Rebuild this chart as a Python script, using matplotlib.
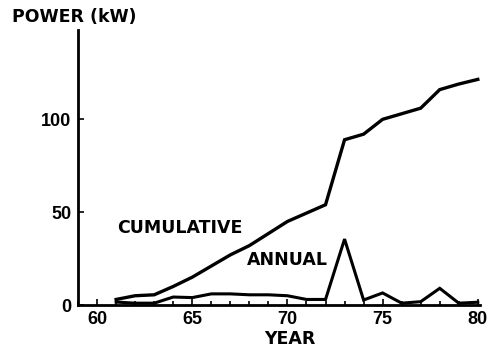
import matplotlib
matplotlib.use("Agg")
import matplotlib.pyplot as plt
from matplotlib.ticker import MultipleLocator

years = [61, 62, 63, 64, 65, 66, 67, 68, 69, 70, 71, 72, 73, 74, 75, 76, 77, 78, 79, 80]
cumulative = [3, 5, 5.5, 10, 15, 21, 27, 32, 38.5, 45, 49.5, 54, 89, 92, 100, 103, 106, 116, 119, 121.5]
annual = [1.6, 1, 1, 4.3, 4, 6, 6, 5.5, 5.5, 5, 3, 3, 35.5, 2.7, 6.5, 1, 1.8, 9, 1, 1.5]
xticks = [60, 65, 70, 75, 80]
yticks = [0, 50, 100]

plt.rcParams['font.family'] = ['DejaVu Sans']
plt.rcParams['font.weight'] = 'bold'

fig = plt.figure(figsize=(4.91, 3.51), dpi=100)
ax = fig.add_axes([0.159, 0.131, 0.818, 0.783])
ax.plot(years, cumulative, color='black', lw=2.4, solid_joinstyle='miter')
ax.plot(years, annual, color='black', lw=2.2, solid_joinstyle='miter')

ax.set_xlim(59, 80.1)
ax.set_ylim(0, 148)
ax.set_xticks(xticks)
ax.set_yticks(yticks)
ax.xaxis.set_minor_locator(MultipleLocator(1))
ax.tick_params(axis='both', which='both', direction='in', width=1.2, labelsize=13)
ax.tick_params(axis='both', which='major', length=4)
ax.tick_params(axis='x', which='minor', length=3)
ax.tick_params(axis='x', pad=4)
ax.tick_params(axis='y', pad=5)
for lab in ax.get_xticklabels() + ax.get_yticklabels():
    lab.set_fontweight('bold')
    lab.set_fontfamily(['Liberation Sans'])
for s in ['top', 'right']:
    ax.spines[s].set_visible(False)
for s in ['left', 'bottom']:
    ax.spines[s].set_linewidth(2)

fig.text(290/491, 1-339/351, 'YEAR', ha='center', va='center', fontsize=12.5, fontweight='bold')
fig.text(12/491, 1-17/351, 'POWER (kW)', ha='left', va='center', fontsize=12.5, fontweight='bold')
ax.text(64.34, 41.4, 'CUMULATIVE', ha='center', va='center', fontsize=12.5, fontweight='bold')
ax.text(70.0, 24.2, 'ANNUAL', ha='center', va='center', fontsize=12.5, fontweight='bold')

fig.savefig('out.png', dpi=100, facecolor='white')
